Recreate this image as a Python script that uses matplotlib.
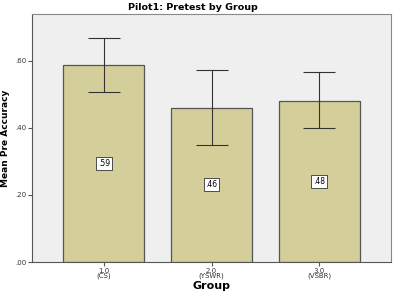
import matplotlib
matplotlib.use("Agg")
import matplotlib.pyplot as plt

categories = ["1.0\n(CS)", "2.0\n(YSWR)", "3.0\n(VSBR)"]
means = [0.588, 0.461, 0.481]
err_low = [0.507, 0.348, 0.400]
err_high = [0.670, 0.574, 0.566]
yticks = [0.0, 0.2, 0.4, 0.6]
ytick_labels = [".00", ".20", ".40", ".60"]

fig = plt.figure(figsize=(3.93, 2.98), dpi=100)
ax = fig.add_axes([0.0814, 0.1208, 0.9136, 0.832])
ax.set_facecolor("#EFEFEF")
x = list(range(len(categories)))
ax.bar(x, means, width=0.75, color="#D4CF9A", edgecolor="#555555", linewidth=0.9, zorder=2)
lower = [m - l for m, l in zip(means, err_low)]
upper = [h - m for m, h in zip(means, err_high)]
ax.errorbar(x, means, yerr=[lower, upper], fmt="none", ecolor="#333333",
            elinewidth=0.8, capsize=11.5, capthick=0.8, zorder=3)
for xi, m in zip(x, means):
    ax.text(xi, m / 2, ("%.2f" % m).lstrip("0"), ha="center", va="center", fontsize=5.5,
            bbox=dict(boxstyle="square,pad=0.25", fc="white", ec="#333333", lw=0.6), zorder=4)
ax.set_xlim(-0.667, 2.667)
ax.set_ylim(0, 0.74)
ax.set_yticks(yticks)
ax.set_yticklabels(ytick_labels, fontsize=5, color="#333333")
ax.set_xticks(x)
ax.set_xticklabels(categories, fontsize=5, color="#333333", linespacing=0.8)
ax.tick_params(axis="both", length=3, width=0.8, color="#555555", pad=1)
for s in ax.spines.values():
    s.set_color("#555555")
    s.set_linewidth(0.8)
ax.spines["top"].set_color("#888888")
ax.spines["right"].set_color("#888888")
ax.set_ylabel("Mean Pre Accuracy", fontsize=6.5, fontweight="bold")
ax.yaxis.set_label_coords(-0.062, 0.5)
ax.set_xlabel("Group", fontsize=8, fontweight="bold")
ax.xaxis.set_label_coords(0.5, -0.078)
fig.text(0.49, 0.976, "Pilot1: Pretest by Group", ha="center", va="center",
         fontsize=6.8, fontweight="bold")
fig.savefig("out.png", dpi=100)
